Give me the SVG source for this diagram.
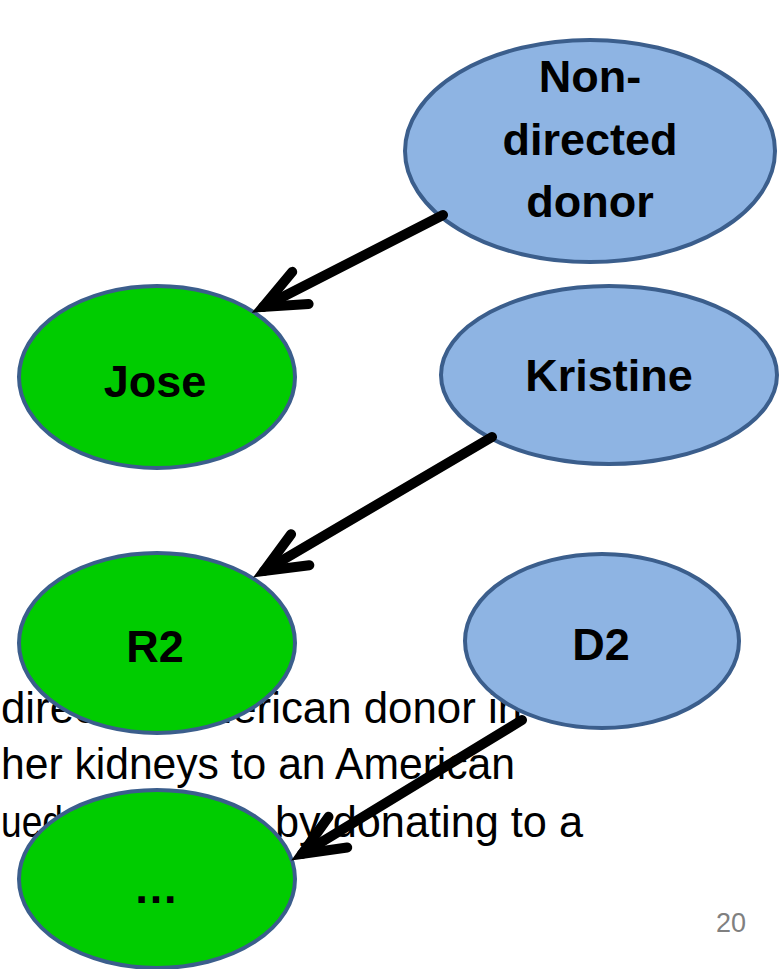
<svg xmlns="http://www.w3.org/2000/svg" width="782" height="969" viewBox="0 0 782 969">
<style>
.bg{font-family:"Liberation Sans",Arial,sans-serif;font-size:45px;fill:#000}
.rec{fill:#00CC00;stroke:#3B5E8C;stroke-width:4}
.don{fill:#8EB4E3;stroke:#3B5E8C;stroke-width:4}
.lbl{font-family:"Liberation Sans",Arial,sans-serif;font-size:45px;font-weight:bold;fill:#000;text-anchor:middle}
.edge{fill:none;stroke:#000;stroke-width:10;stroke-linecap:round}
.pg{font-family:"Liberation Sans",Arial,sans-serif;font-size:27px;fill:#808080;text-anchor:end}
</style>
<defs>
<marker id="ah" markerUnits="userSpaceOnUse" markerWidth="80" markerHeight="80" refX="0" refY="0" viewBox="-60 -40 80 80" orient="auto" overflow="visible">
<path d="M -42 -18 L 0 0 L -42 18" fill="none" stroke="#000" stroke-width="10" stroke-linecap="round" stroke-linejoin="miter"/>
</marker>
</defs>
<rect width="782" height="969" fill="#fff"/>
<g id="background-text">
<text class="bg" x="1" y="723" textLength="521" lengthAdjust="spacingAndGlyphs">directed American donor in</text>
<text class="bg" x="1" y="779" textLength="514" lengthAdjust="spacingAndGlyphs">her kidneys to an American</text>
<text class="bg" y="837"><tspan x="1" textLength="62" lengthAdjust="spacingAndGlyphs">ued</tspan><tspan x="275" textLength="308" lengthAdjust="spacingAndGlyphs">by donating to a</tspan></text>
</g>
<g id="node-ndd"><ellipse class="don" cx="590" cy="151" rx="185" ry="111"/>
<text class="lbl" x="590" y="92">Non-</text><text class="lbl" x="590" y="155">directed</text><text class="lbl" x="590" y="217">donor</text></g>
<g id="node-jose"><ellipse class="rec" cx="157" cy="377" rx="138" ry="91"/><text class="lbl" x="155" y="397">Jose</text></g>
<g id="node-kristine"><ellipse class="don" cx="609" cy="375" rx="168" ry="89"/><text class="lbl" x="609" y="391" font-size="47">Kristine</text></g>
<g id="node-r2"><ellipse class="rec" cx="157" cy="643" rx="138" ry="90"/><text class="lbl" x="155" y="662">R2</text></g>
<g id="node-d2"><ellipse class="don" cx="602" cy="641" rx="137" ry="87"/><text class="lbl" x="601" y="660">D2</text></g>
<g id="node-more"><ellipse class="rec" cx="157" cy="879" rx="138" ry="89"/><text class="lbl" x="156" y="903">…</text></g>
<g id="connectors">
<line class="edge" x1="443" y1="215" x2="263" y2="307" marker-end="url(#ah)"/>
<line class="edge" x1="492" y1="437" x2="264" y2="571" marker-end="url(#ah)"/>
<line class="edge" x1="522" y1="720" x2="302" y2="854" marker-end="url(#ah)"/>
</g>
<text class="pg" x="746" y="932">20</text>
</svg>
